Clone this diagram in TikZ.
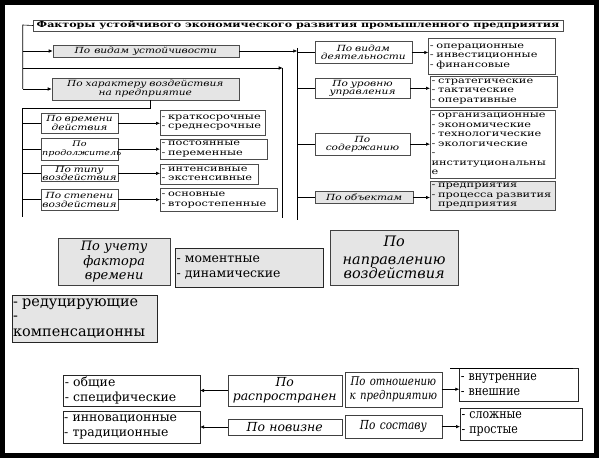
\documentclass[tikz,border=0pt]{standalone}
\usepackage{fontspec}
\setmainfont{DejaVu Serif}
\newfontfamily\wserif[FakeStretch=1.25]{DejaVu Serif}
\newfontfamily\lserif[FakeStretch=1.34]{DejaVu Serif}
\newfontfamily\tserif[FakeStretch=1.34]{DejaVu Serif}
\newfontfamily\nserif[FakeStretch=0.85]{DejaVu Serif}
\usetikzlibrary{arrows.meta}
\newcommand\cfnt{\wserif\itshape\fontsize{8.5}{8.7}\selectfont}
\newcommand\lfnt{\lserif\fontsize{8.5}{9.5}\selectfont}
\newcommand\bigit{\itshape\fontsize{13}{14.5}\selectfont}
\newcommand\biglst{\fontsize{12.5}{15.5}\selectfont}
\newcommand\mybox[7]{%
  \pgfmathsetmacro\mbw{#4-#2}\pgfmathsetmacro\mbh{#5-#3}\pgfmathsetmacro\mbt{#4-#2-3}%
  \node[#6, anchor=north west, minimum width=\mbw bp, minimum height=\mbh bp, text width=\mbt bp] (#1) at (#2,#3) {#7};}
\begin{document}
\exhyphenpenalty=10000 \hyphenpenalty=10000
\begin{tikzpicture}[x=1bp,y=-1bp,
  every node/.style={inner sep=0pt, outer sep=0pt, inner xsep=1.5bp},
  cat/.style={draw=black!70, align=center, font=\cfnt},
  catg/.style={cat, fill=black!10},
  lst/.style={draw=black!70, align=left, font=\lfnt},
  lstg/.style={lst, fill=black!10},
  bcat/.style={draw=black!75, align=center, font=\bigit},
  bcatg/.style={bcat, fill=black!10},
  blst/.style={draw=black!85, align=left, font=\biglst},
  blstg/.style={blst, fill=black!10},
  con/.style={line width=0.6bp, black},
  arr/.style={con, -{Latex[length=4bp,width=3.5bp]}},
]
\useasboundingbox (0,0) rectangle (603,463);
\draw[line width=5bp] (2.5,2.5) rectangle (596,455.5);

% title
\node[draw=black!70, anchor=north west, minimum width=530bp, minimum height=11bp] (title) at (33,20)
  {\tserif\bfseries\fontsize{8.3}{9}\selectfont Факторы устойчивого экономического развития промышленного предприятия};

% left top boxes
\mybox{vu}{52.7}{45}{239}{57}{catg}{По\hspace{4pt}видам\hspace{4pt}устойчивости}
\mybox{xv}{51.7}{78}{239}{100}{catg}{По~характеру~воздействия\\на~предприятие}

% left sub boxes
\mybox{vd}{40.7}{113.3}{118.3}{133.3}{cat}{По~времени\\действия}
\mybox{pr}{40.7}{138.3}{118.3}{160}{cat}{\fontsize{7.7}{8.9}\selectfont По\\продолжитель}
\mybox{tv}{40.7}{165}{118.3}{181.7}{cat}{По~типу\\воздействия}
\mybox{sv}{40.7}{189.3}{118.3}{210}{cat}{По~степени\\воздействия}

\mybox{l1}{160}{110.7}{265}{135}{lst}{-~краткосрочные\\-~среднесрочные}
\mybox{l2}{160}{139.3}{266.7}{159.3}{lst}{-~постоянные\\-~переменные}
\mybox{l3}{160}{164}{258.3}{184}{lst}{-~интенсивные\\-~экстенсивные}
\mybox{l4}{160}{188.3}{276.7}{211.7}{lst}{-~основные\\-~второстепенные}

% right boxes
\mybox{vdea}{315}{41.7}{411.7}{63.3}{cat}{По~видам\\деятельности}
\mybox{uu}{315}{78.3}{410}{98.3}{cat}{По~уровню\\управления}
\mybox{sod}{315}{133.3}{410}{155}{cat}{По\\содержанию}
\mybox{ob}{315}{191.7}{413.3}{203.3}{catg}{По~объектам}

\mybox{r1}{428.3}{38.3}{555}{74.5}{lst}{-~операционные\\-~инвестиционные\\-~финансовые}
\mybox{r2}{430}{76}{556.7}{107}{lst}{-~стратегические\\-~тактические\\-~оперативные}
\mybox{r3}{430}{110}{555}{178.3}{lst}{-~организационные\\-~экономические\\-~технологические\\-~экологические\\-\\институциональны\\е}
\mybox{r4}{430}{181.7}{555}{210}{lstg}{-~предприятия\\-~процесса~развития\\\hphantom{-}~предприятия}

% connectors top
\coordinate (tr1) at (22.7,25);
\coordinate (m1) at (22.7,68);
\coordinate (m2) at (282.7,68);
\coordinate (m3) at (282.7,218);
\coordinate (tr2) at (22.7,217);
\coordinate (rt1) at (297.3,48);
\coordinate (rt2) at (297.3,220);
\draw[con] (title.west) -- (tr1) -- (tr1 |- xv.west);
\draw[arr] (vu.west -| tr1) -- (vu.west);
\draw[arr] (xv.west -| tr1) -- (xv.west);
\draw[arr] (m1) -- (m2);
\draw[con] (m2) -- (m3);
\draw[con] ([xshift=4.7bp]xv.south) -- ++(0,8) -| (tr2);
\foreach \b in {vd,pr,tv,sv}{\draw[con] (\b.west -| tr2) -- (\b.west);}
\draw[arr] (vd.east) -- (vd.east -| l1.west);
\draw[arr] (pr.east) -- (pr.east -| l2.west);
\draw[arr] (tv.east) -- (tv.east -| l3.west);
\draw[arr] (sv.east) -- (sv.east -| l4.west);
\draw[con] (rt1) -- (rt2);
\draw[arr] (vu.east) -- (vu.east -| rt1);
\foreach \b in {vdea,uu,sod,ob}{\draw[con] (\b.west -| rt1) -- (\b.west);}
\draw[arr] (vdea.east) -- (vdea.east -| r1.west);
\draw[arr] (uu.east) -- (uu.east -| r2.west);
\draw[arr] (sod.east) -- (sod.east -| r3.west);
\draw[arr] (ob.east) -- (ob.east -| r4.west);

% middle boxes
\mybox{puf}{58.3}{238.3}{170}{285}{bcatg}{По~учету\\фактора\\времени}
\mybox{md}{175}{248.3}{322.7}{286.7}{blstg}{-~моментные\\-~динамические}
\mybox{pnv}{330}{230}{458.3}{285}{bcatg}{\fontsize{14.5}{18}\selectfont По\\направлению\\воздействия}
\mybox{rk}{11.7}{295}{156.7}{341.7}{blstg}{\fontsize{14.5}{14.5}\selectfont -~редуцирующие\\-\\компенсационны}

% bottom boxes
\mybox{os}{63.3}{375}{200}{406}{blst}{-~общие\\-~специфические}
\mybox{it}{62.7}{410.7}{200}{443.3}{blst}{-~инновационные\\-~традиционные}
\mybox{pras}{227.7}{375}{341.7}{406}{bcat}{\fontsize{12.5}{16}\selectfont По\\распространен}
\mybox{pnov}{227.7}{419}{341.7}{435}{bcat}{\fontsize{12.5}{14}\selectfont По~новизне}
\mybox{pop}{345}{371.7}{441.7}{406.7}{bcat}{\nserif\itshape\fontsize{12}{16}\selectfont По~отношению\\к~предприятию}
\mybox{psos}{345}{415}{441.7}{438.3}{bcat}{\nserif\itshape\fontsize{12.5}{14}\selectfont По~составу}
\mybox{vv}{459.3}{368.3}{578.3}{401}{blst}{\nserif\fontsize{13}{15}\selectfont -~внутренние\\-~внешние}
\mybox{sp}{460}{408.3}{581.7}{440}{blst}{\nserif\fontsize{13}{15}\selectfont -~сложные\\-~простые}
\coordinate (vvl) at (450,368.3);
\coordinate (vvr) at (573.3,368.3);
\draw[line width=1bp] (vvl) -- (vvr);

\draw[arr] (pras.west) -- (pras.west -| os.east);
\draw[arr] (pnov.west) -- (pnov.west -| it.east);
\draw[arr] (pop.east) -- (pop.east -| vv.west);
\draw[arr] (psos.east) -- (psos.east -| sp.west);
\end{tikzpicture}
\end{document}
